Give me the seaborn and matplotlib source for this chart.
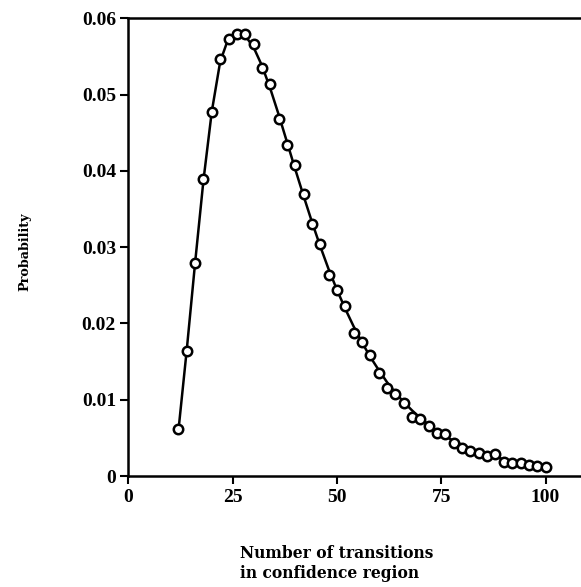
import numpy as np
import pandas as pd
import seaborn as sns
import matplotlib.pyplot as plt

sns.set_style("ticks")
plt.rcParams["font.family"] = ["Liberation Serif", "DejaVu Serif"]
plt.rcParams["font.weight"] = "bold"

# observed probabilities (circles)
n_transitions = list(range(12, 101, 2))
prob_points = [0.0062, 0.0164, 0.0279, 0.0389, 0.0477, 0.0546, 0.0573, 0.0579, 0.0579, 0.0566,
               0.0535, 0.0514, 0.0468, 0.0434, 0.0407, 0.0370, 0.0330, 0.0304, 0.0263, 0.0244,
               0.0223, 0.0188, 0.0176, 0.0158, 0.0135, 0.0116, 0.0107, 0.0096, 0.0078, 0.0075,
               0.0066, 0.0057, 0.0055, 0.0043, 0.0037, 0.0033, 0.0030, 0.0026, 0.0029, 0.0019,
               0.0017, 0.0017, 0.0015, 0.0013, 0.0012]
# smooth curve
prob_curve = [0.0060, 0.0166, 0.0280, 0.0388, 0.0478, 0.0543, 0.0574, 0.0580, 0.0577, 0.0562,
              0.0538, 0.0508, 0.0474, 0.0438, 0.0402, 0.0367, 0.0333, 0.0301, 0.0271, 0.0244,
              0.0219, 0.0196, 0.0175, 0.0156, 0.0139, 0.0123, 0.0109, 0.0097, 0.0086, 0.0076,
              0.0067, 0.0059, 0.0052, 0.0046, 0.0041, 0.0036, 0.0032, 0.0028, 0.0025, 0.0022,
              0.0019, 0.0017, 0.0015, 0.0013, 0.0012]

df = pd.DataFrame({"n": n_transitions, "p": prob_points, "curve": prob_curve})

fig = plt.figure(figsize=(5.81, 5.87), dpi=100, facecolor="w")
ax = fig.add_axes([0.221, 0.189, 0.779, 0.780])

sns.lineplot(x="n", y="curve", data=df, color="k", linewidth=1.8, ax=ax, zorder=2)
sns.scatterplot(x="n", y="p", data=df, marker="o", s=46, facecolor="white",
                edgecolor="k", linewidth=1.8, ax=ax, zorder=3)

ax.set_xlim(0, 108.5)
ax.set_ylim(0, 0.06)
ax.set_xticks([0, 25, 50, 75, 100])
ax.set_yticks([0, 0.01, 0.02, 0.03, 0.04, 0.05, 0.06])
ax.set_yticklabels(["0", "0.01", "0.02", "0.03", "0.04", "0.05", "0.06"])

ax.tick_params(which="major", direction="out", length=6, width=1.5, labelsize=14,
               color="k", labelcolor="k", pad=3)
for lab in ax.get_xticklabels() + ax.get_yticklabels():
    lab.set_fontweight("bold")
ax.spines["right"].set_visible(False)
for spine in ["top", "left", "bottom"]:
    ax.spines[spine].set_linewidth(1.8)
    ax.spines[spine].set_color("k")

label_font = ["DejaVu Serif"]
ax.set_xlabel("Number of transitions\nin confidence region", fontsize=11.2,
              fontweight="bold", family=label_font, ha="left", linespacing=1.25, color="k")
ax.xaxis.set_label_coords(0.247, -0.15)
ax.set_ylabel("Probability", fontsize=9.2, fontweight="bold", family=label_font, color="k")
ax.yaxis.set_label_coords(-0.215, 0.49)

fig.savefig("out.png", dpi=100)
